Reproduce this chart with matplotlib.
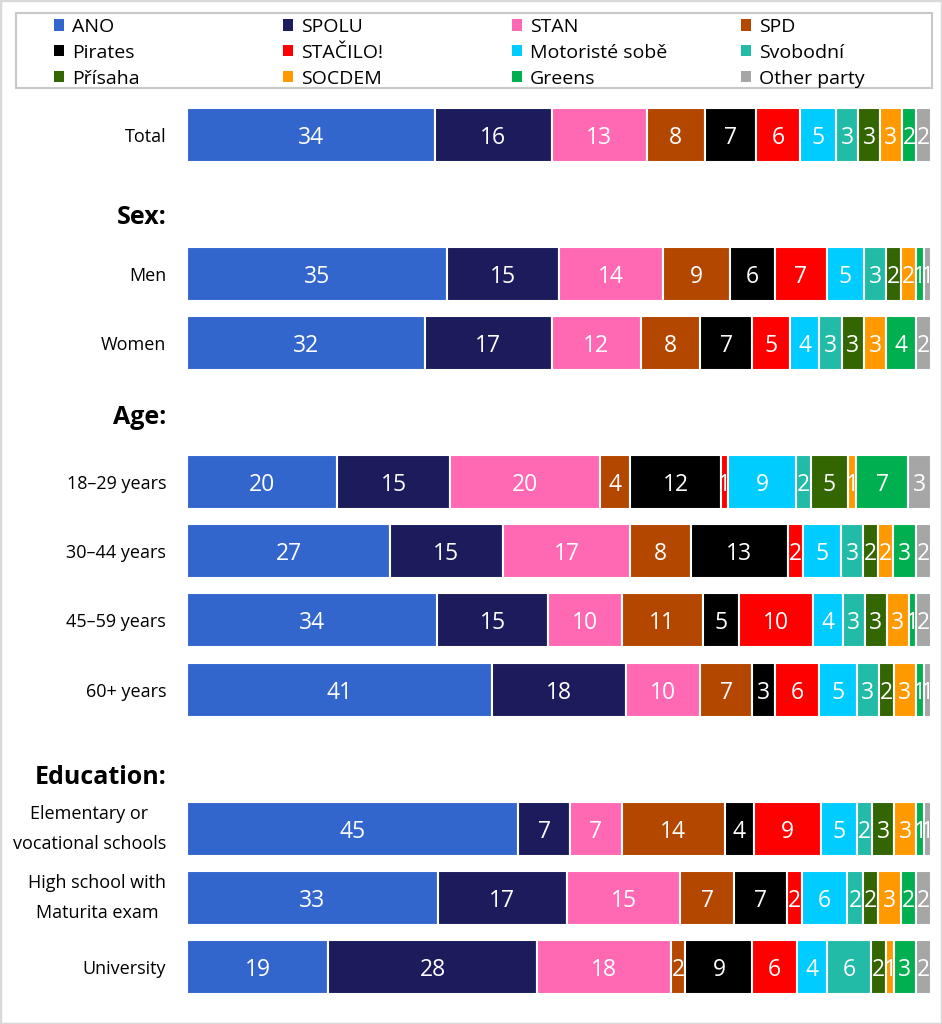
import numpy as np
import matplotlib
matplotlib.use("Agg")
import matplotlib.pyplot as plt
from matplotlib.patches import Patch, Rectangle

plt.rcParams["font.family"] = ["Open Sans", "DejaVu Sans"]

parties = ["ANO", "SPOLU", "STAN", "SPD", "Pirates", "STAČILO!",
           "Motoristé sobě", "Svobodní", "Přísaha", "SOCDEM", "Greens", "Other party"]
colors = ["#3366CC", "#1C1B5C", "#FF69B4", "#B34700", "#000000", "#FF0000",
          "#00CCFF", "#22BBA8", "#336600", "#FF9900", "#00B050", "#A6A6A6"]

groups = ["Total", "Men", "Women", "18–29 years", "30–44 years", "45–59 years",
          "60+ years", "Elementary or\nvocational schools",
          "High school with\nMaturita exam", "University"]

# one row per group, one column per party (percent)
values = np.array([
    [34, 16, 13, 8, 7, 6, 5, 3, 3, 3, 2, 2],
    [35, 15, 14, 9, 6, 7, 5, 3, 2, 2, 1, 1],
    [32, 17, 12, 8, 7, 5, 4, 3, 3, 3, 4, 2],
    [20, 15, 20, 4, 12, 1, 9, 2, 5, 1, 7, 3],
    [27, 15, 17, 8, 13, 2, 5, 3, 2, 2, 3, 2],
    [34, 15, 10, 11, 5, 10, 4, 3, 3, 3, 1, 2],
    [41, 18, 10, 7, 3, 6, 5, 3, 2, 3, 1, 1],
    [45, 7, 7, 14, 4, 9, 5, 2, 3, 3, 1, 1],
    [33, 17, 15, 7, 7, 2, 6, 2, 2, 3, 2, 2],
    [19, 28, 18, 2, 9, 6, 4, 6, 2, 1, 3, 2],
])

section_titles = ["Sex:", "Age:", "Education:"]

# layout (pixel rows of the 942x1024 canvas)
row_y = [135, 274, 343, 482, 551, 620, 690, 829, 898, 967]
title_y = [215, 415, 775]

shares = values / values.sum(axis=1, keepdims=True) * 100
lefts = np.zeros(len(groups))

fig = plt.figure(figsize=(9.42, 10.24), dpi=100)
ax = fig.add_axes([187 / 942, 0, (931 - 187) / 942, 1])
ax.set_xlim(0, 100)
ax.set_ylim(1024, 0)

for j, party in enumerate(parties):
    bars = ax.barh(row_y, shares[:, j], left=lefts, height=54, color=colors[j],
                   edgecolor="white", linewidth=1.5, label=party)
    texts = ax.bar_label(bars, labels=[str(v) for v in values[:, j]],
                         label_type="center", color="white", fontsize=16.5)
    for t in texts:
        t.set_va("center_baseline")
    lefts += shares[:, j]

ax.set_xticks([])
ax.set_yticks([])
for s in ax.spines.values():
    s.set_visible(False)

for g, y in zip(groups, row_y):
    ax.annotate(g, xy=(0, y), xycoords=("axes fraction", "data"),
                xytext=(-15, 0), textcoords="offset points",
                ha="right", va="center_baseline" if "\n" not in g else "center",
                multialignment="center", linespacing=1.8, fontsize=13)

for title, y in zip(section_titles, title_y):
    ax.annotate(title, xy=(0, y), xycoords=("axes fraction", "data"),
                xytext=(-15, 0), textcoords="offset points",
                ha="right", va="center_baseline", fontsize=18, fontweight="bold")

# legend laid out row by row: one small legend per column
col_x = [52, 281, 510, 739]
for c, x in enumerate(col_x):
    idx = [c, c + 4, c + 8]
    fig.legend([Patch(facecolor=colors[i], edgecolor="none") for i in idx],
               [parties[i] for i in idx],
               loc="upper left", bbox_to_anchor=(x / 942, 1 - 16 / 1024),
               frameon=False, fontsize=14, handlelength=0.52, handleheight=0.52,
               handletextpad=0.42, labelspacing=0.4, borderpad=0.0,
               borderaxespad=0.1)

fig.patches.append(Rectangle((16 / 942, 1 - 88 / 1024), (932 - 16) / 942, 75 / 1024,
                             transform=fig.transFigure, fill=False,
                             edgecolor="#C8C8C8", linewidth=1.5))
fig.patches.append(Rectangle((0, 0), 1, 1, transform=fig.transFigure, fill=False,
                             edgecolor="#D9D9D9", linewidth=2.5))

fig.savefig("out.png", dpi=100)
